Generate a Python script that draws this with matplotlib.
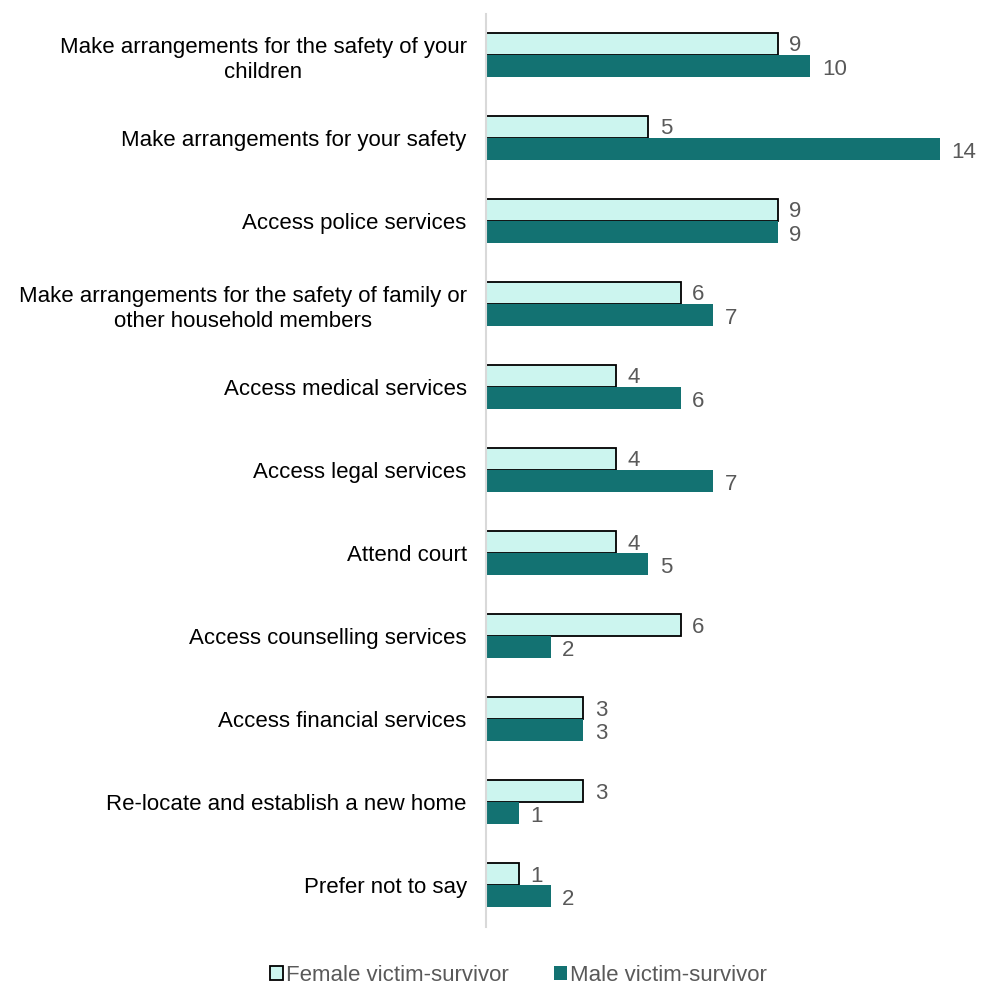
import matplotlib
matplotlib.use("Agg")
import matplotlib.pyplot as plt
import numpy as np

plt.rcParams['font.family'] = ['Liberation Sans', 'DejaVu Sans']

categories = [
    "Make arrangements for the safety of your\nchildren",
    "Make arrangements for your safety",
    "Access police services",
    "Make arrangements for the safety of family or\nother household members",
    "Access medical services",
    "Access legal services",
    "Attend court",
    "Access counselling services",
    "Access financial services",
    "Re-locate and establish a new home",
    "Prefer not to say",
]
female = [9, 5, 9, 6, 4, 4, 4, 6, 3, 3, 1]
male = [10, 14, 9, 7, 6, 7, 5, 2, 3, 1, 2]

female_color = "#CCF5EF"
male_color = "#137272"
label_color = "#595959"

fig = plt.figure(figsize=(9.82, 9.85), dpi=100)
ax = fig.add_axes([0.495, 0.059, 0.479, 0.927])

y = np.arange(len(categories))
h = 0.265
ax.barh(y - h / 2, female, height=h, color=female_color, edgecolor="black",
        linewidth=1.3, label="Female victim-survivor")
ax.barh(y + h / 2, male, height=h, color=male_color, edgecolor=male_color,
        linewidth=0, label="Male victim-survivor")

for yi, v in zip(y, female):
    ax.text(v + 0.35, yi - h / 2 + 0.02, str(v), va="center", ha="left",
            fontsize=16, color=label_color)
for yi, v in zip(y, male):
    ax.text(v + 0.35, yi + h / 2 + 0.04, str(v), va="center", ha="left",
            fontsize=16, color=label_color)

ax.set_yticks(y)
ax.set_yticklabels(categories, fontsize=16, color="black",
                   multialignment="center", linespacing=1.25)
ax.set_ylim(len(categories) - 0.5, -0.5)
ax.set_xlim(0, 14.5)
ax.set_xticks([])
ax.tick_params(axis="y", length=0, pad=14)
for s in ["top", "right", "bottom"]:
    ax.spines[s].set_visible(False)
ax.spines["left"].set_color("#D9D9D9")
ax.spines["left"].set_linewidth(1.5)

leg = fig.legend(loc="lower center", bbox_to_anchor=(0.528, -0.021), ncol=2,
                 frameon=False, fontsize=16, handlelength=0.6, handleheight=0.6,
                 handletextpad=0.15, columnspacing=2.0)
for t in leg.get_texts():
    t.set_color(label_color)

fig.savefig("out.png", dpi=100)
